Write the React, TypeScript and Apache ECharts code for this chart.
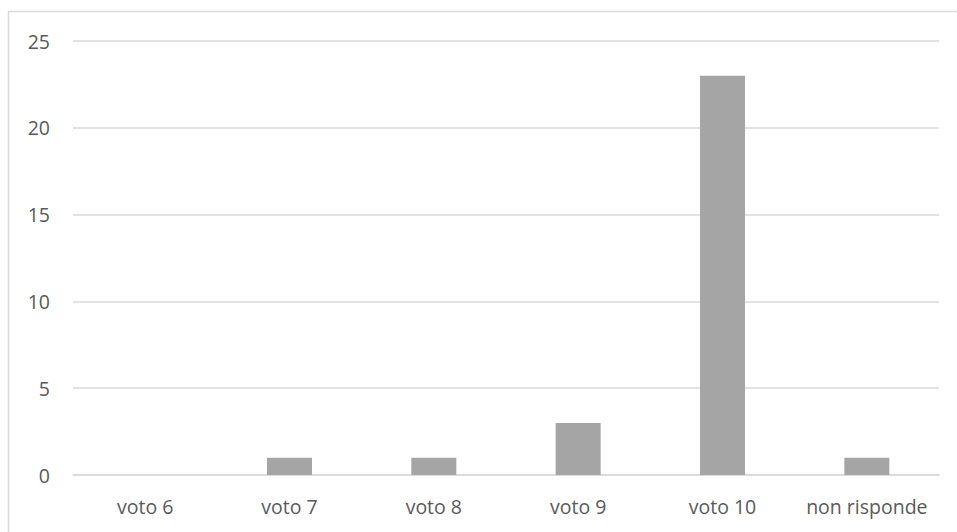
import React, { useEffect, useRef } from "react";
import * as echarts from "echarts";

// Risposte per voto
const categories = ["voto 6", "voto 7", "voto 8", "voto 9", "voto 10", "non risponde"];
const counts = [0, 1, 1, 3, 23, 1];
const yMin = 0;
const yMax = 25;
const yStep = 5;

const FONT = "'Open Sans', 'Noto Sans', sans-serif";
const TEXT_COLOR = "#595959";
const LINE_COLOR = "#D9D9D9";
const BAR_COLOR = "#A5A5A5";

export default function App() {
  const ref = useRef<HTMLDivElement>(null);

  useEffect(() => {
    if (!ref.current) return;
    const chart = echarts.init(ref.current, null, { renderer: "svg" });
    chart.setOption({
      animation: false,
      backgroundColor: "#FFFFFF",
      textStyle: { fontFamily: FONT },
      graphic: [
        {
          type: "rect",
          silent: true,
          shape: { x: 8.5, y: 11.5, width: 970, height: 540 },
          style: { fill: "none", stroke: LINE_COLOR, lineWidth: 1.5 },
        },
      ],
      grid: { left: 73, right: 18, top: 41, bottom: 57, containLabel: false },
      xAxis: {
        type: "category",
        data: categories,
        axisLine: { show: true, lineStyle: { color: LINE_COLOR, width: 1.5 } },
        axisTick: { show: false },
        axisLabel: {
          color: TEXT_COLOR,
          fontSize: 19.5,
          fontFamily: FONT,
          margin: 21,
          interval: 0,
        },
      },
      yAxis: {
        type: "value",
        min: yMin,
        max: yMax,
        interval: yStep,
        axisLine: { show: false },
        axisTick: { show: false },
        splitLine: { lineStyle: { color: LINE_COLOR, width: 1.5 } },
        axisLabel: {
          color: TEXT_COLOR,
          fontSize: 19.5,
          fontFamily: FONT,
          margin: 23,
        },
      },
      series: [
        {
          type: "bar",
          data: counts,
          barWidth: 45,
          itemStyle: { color: BAR_COLOR },
          silent: true,
        },
      ],
    });
    return () => chart.dispose();
  }, []);

  return (
    <div
      ref={ref}
      style={{ position: "absolute", left: 0, top: 0, width: 957, height: 532 }}
    />
  );
}
